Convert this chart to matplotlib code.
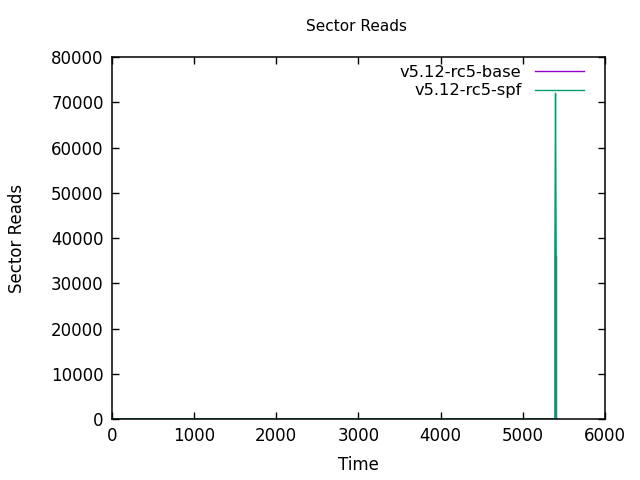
import matplotlib
matplotlib.use("Agg")
import matplotlib.pyplot as plt

base_time = [0, 5392, 5392, 5408, 5408, 5420]
base_vals = [0, 0, 36000, 36000, 0, 0]
spf_time = [0, 5392, 5392, 5400, 5408, 5408, 5420]
spf_vals = [0, 0, 36000, 72000, 36000, 0, 0]

xticks = [0, 1000, 2000, 3000, 4000, 5000, 6000]
yticks = [0, 10000, 20000, 30000, 40000, 50000, 60000, 70000, 80000]

fig = plt.figure(figsize=(6.4, 4.8), dpi=100)
ax = fig.add_axes([0.175, 0.127, 0.77, 0.754])
ax.plot(base_time, base_vals, color="#9400d3", lw=1, label="v5.12-rc5-base")
ax.plot(spf_time, spf_vals, color="#009e73", lw=1, label="v5.12-rc5-spf")
ax.set_xlim(0, 6000)
ax.set_ylim(0, 80000)
ax.set_xticks(xticks)
ax.set_yticks(yticks)
for s in ax.spines.values():
    s.set_linewidth(1.1)
    s.set_zorder(5)
ax.tick_params(direction="in", top=True, right=True, labelsize=12, length=5, pad=6, width=1)
ax.set_xlabel("Time", fontsize=12, labelpad=8)
ax.set_ylabel("Sector Reads", fontsize=12, labelpad=18)
fig.text(0.557, 0.944, "Sector Reads", ha="center", va="center", fontsize=11)
leg = ax.legend(loc="upper right", bbox_to_anchor=(0.971, 0.9965), frameon=False, fontsize=11.7,
                markerfirst=False, handlelength=3.0, borderaxespad=0.0, labelspacing=0.22,
                handletextpad=0.85)
for t in leg.get_texts():
    t.set_ha("right")
fig.savefig("out.png", dpi=100)
